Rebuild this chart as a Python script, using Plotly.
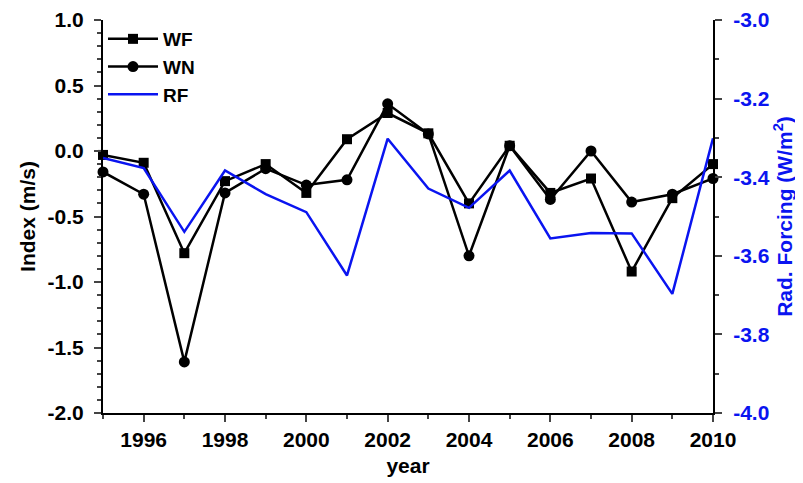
import plotly.graph_objects as go

years = list(range(1995, 2011))
wf = [-0.03, -0.09, -0.78, -0.23, -0.10, -0.32, 0.09, 0.29, 0.135, -0.40, 0.04, -0.32, -0.21, -0.92, -0.36, -0.10]
wn = [-0.16, -0.33, -1.61, -0.32, -0.135, -0.26, -0.22, 0.36, 0.13, -0.80, 0.04, -0.37, 0.00, -0.39, -0.33, -0.21]
rf = [-3.351, -3.377, -3.539, -3.383, -3.443, -3.489, -3.650, -3.302, -3.429, -3.478, -3.383, -3.556, -3.542, -3.543, -3.697, -3.301]

y1_ticks = [1.0, 0.5, 0.0, -0.5, -1.0, -1.5, -2.0]
y1_labels = ["1.0", "0.5", "0.0", "-0.5", "-1.0", "-1.5", "-2.0"]
y2_ticks = [-3.0, -3.2, -3.4, -3.6, -3.8, -4.0]
y2_labels = ["-3.0", "-3.2", "-3.4", "-3.6", "-3.8", "-4.0"]

FONT = "Liberation Sans"
BLUE = "#0a14f0"

fig = go.Figure()
fig.add_trace(go.Scatter(x=years, y=wf, name="WF", mode="lines+markers",
                         line=dict(color="black", width=2.5),
                         marker=dict(symbol="square", size=10, color="black"),
                         cliponaxis=False))
fig.add_trace(go.Scatter(x=years, y=wn, name="WN", mode="lines+markers",
                         line=dict(color="black", width=2.5),
                         marker=dict(symbol="circle", size=11, color="black"),
                         cliponaxis=False))
fig.add_trace(go.Scatter(x=years, y=rf, name="RF", mode="lines", yaxis="y2",
                         line=dict(color=BLUE, width=2.5), cliponaxis=False))

def bold(size, color="black"):
    return dict(family=FONT, size=size, color=color, weight="bold")

# page body has an 8px margin, so the figure is drawn 8px in from the top-left
fig.update_layout(
    width=795, height=475,
    margin=dict(l=95, r=90, t=12, b=70),
    plot_bgcolor="white", paper_bgcolor="white",
    font=dict(family=FONT, color="black"),
    showlegend=True,
    legend=dict(x=0.0, y=1.0, xanchor="left", yanchor="top",
                bgcolor="rgba(0,0,0,0)",
                font=bold(19),
                itemwidth=50, tracegroupgap=0),
    xaxis=dict(range=[1995, 2010], tick0=1996, dtick=2, ticks="outside", ticklen=7, tickwidth=2,
               showline=True, linewidth=2, linecolor="black",
               showgrid=False, zeroline=False, automargin=False,
               tickfont=bold(21), ticklabelstandoff=0,
               minor=dict(dtick=1, tick0=1995, ticks="outside", ticklen=4, tickwidth=2, showgrid=False),
               title=dict(text="year", font=bold(21), standoff=8)),
    xaxis2=dict(range=[1995, 2010], overlaying="x", side="top", anchor="y",
                tick0=1996, dtick=2, ticks="outside", ticklen=7, tickwidth=2,
                showline=True, linewidth=2, linecolor="black",
                showgrid=False, zeroline=False, automargin=False, showticklabels=False,
                minor=dict(dtick=1, tick0=1995, ticks="outside", ticklen=4, tickwidth=2, showgrid=False)),
    yaxis=dict(range=[-2.0, 1.0], tickvals=y1_ticks, ticktext=y1_labels,
               ticks="outside", ticklen=7, tickwidth=2,
               showline=True, linewidth=2, linecolor="black",
               showgrid=False, zeroline=False, automargin=False,
               tickfont=bold(21), ticklabelstandoff=6,
               minor=dict(dtick=0.1, tick0=0, ticks="outside", ticklen=4, tickwidth=2, showgrid=False),
               title=dict(text="Index (m/s)", font=bold(21), standoff=6)),
    yaxis2=dict(range=[-4.0, -3.0], tickvals=y2_ticks, ticktext=y2_labels,
                overlaying="y", side="right",
                ticks="outside", ticklen=7, tickwidth=2,
                showline=True, linewidth=2, linecolor="black",
                showgrid=False, zeroline=False, automargin=False,
                tickfont=bold(21, BLUE), ticklabelstandoff=7,
                minor=dict(dtick=0.1, tick0=-3.0, ticks="outside", ticklen=4, tickwidth=2, showgrid=False),
                title=dict(text="Rad. Forcing (W/m<sup>2</sup>)", font=bold(21, BLUE), standoff=8)),
)

fig.write_html("out.html")
